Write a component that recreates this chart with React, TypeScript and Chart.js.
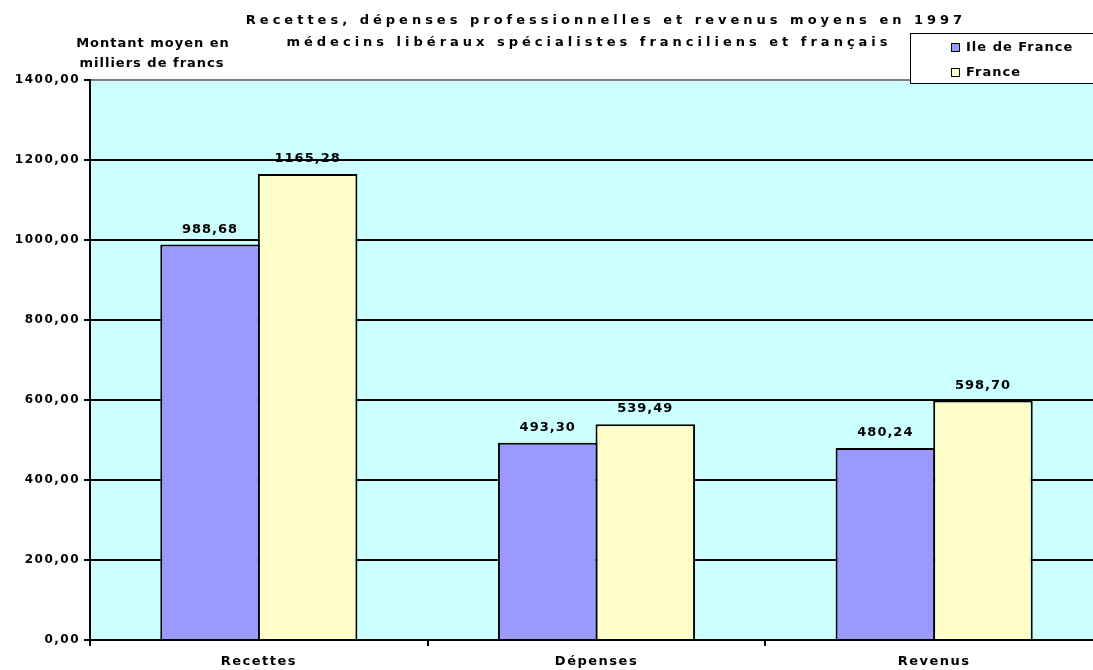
import React, { useEffect, useRef } from "react";
import { Chart, registerables } from "chart.js";

Chart.register(...registerables);

const categories = ["Recettes", "Dépenses", "Revenus"];
const ileDeFrance = [988.68, 493.3, 480.24];
const france = [1165.28, 539.49, 598.7];
const seriesLabels = ["Ile de France", "France"];
const seriesColors = ["#9999FF", "#FFFFCC"];
const titleLines = [
  "Recettes, dépenses professionnelles et revenus moyens en 1997",
  "médecins libéraux spécialistes franciliens et français",
];
const yTitleLines = ["Montant moyen en", "milliers de francs"];

const FONT = '"DejaVu Sans", sans-serif';
const fmt = (v: number) => v.toFixed(2).replace(".", ",");

const decorPlugin = {
  id: "decor",
  beforeDraw(chart: any) {
    const { ctx, chartArea } = chart;
    ctx.save();
    ctx.fillStyle = "#CCFFFF";
    ctx.fillRect(chartArea.left, chartArea.top, chartArea.right - chartArea.left, chartArea.bottom - chartArea.top);
    ctx.restore();
    (ctx as any).letterSpacing = "1.5px";
  },
  afterDatasetsDraw(chart: any) {
    const { ctx } = chart;
    ctx.save();
    (ctx as any).letterSpacing = "1px";
    ctx.font = `bold 13px ${FONT}`;
    ctx.fillStyle = "#000";
    ctx.textAlign = "center";
    ctx.textBaseline = "alphabetic";
    chart.data.datasets.forEach((ds: any, di: number) => {
      const meta = chart.getDatasetMeta(di);
      meta.data.forEach((bar: any, i: number) => {
        ctx.fillText(fmt(ds.data[i]), bar.x, bar.y - 12);
      });
    });
    ctx.restore();
  },
  afterDraw(chart: any) {
    const { ctx } = chart;
    ctx.save();
    ctx.fillStyle = "#000";
    ctx.textBaseline = "alphabetic";
    // Title
    (ctx as any).letterSpacing = "4px";
    ctx.font = `bold 13px ${FONT}`;
    ctx.textAlign = "center";
    ctx.fillText(titleLines[0], 606, 24);
    ctx.fillText(titleLines[1], 589, 46);
    // Y title
    (ctx as any).letterSpacing = "1px";
    ctx.font = `bold 13px ${FONT}`;
    ctx.fillText(yTitleLines[0], 153, 47);
    ctx.fillText(yTitleLines[1], 152, 67);
    // Legend
    const lx = 910, ly = 33, lw = 190, lh = 50;
    ctx.fillStyle = "#fff";
    ctx.fillRect(lx, ly, lw, lh);
    ctx.strokeStyle = "#000";
    ctx.lineWidth = 1;
    ctx.strokeRect(lx + 0.5, ly + 0.5, lw, lh);
    ctx.textAlign = "left";
    chart.data.datasets.forEach((ds: any, di: number) => {
      const y = 47 + di * 25;
      ctx.fillStyle = ds.backgroundColor;
      ctx.fillRect(951, y - 4, 8, 8);
      ctx.strokeStyle = "#000";
      ctx.strokeRect(951.5, y - 3.5, 8, 8);
      ctx.fillStyle = "#000";
      ctx.fillText(ds.label, 966, y + 4);
    });
    ctx.restore();
  },
};

export default function App() {
  const ref = useRef<HTMLCanvasElement>(null);
  useEffect(() => {
    if (!ref.current) return;
    const chart = new Chart(ref.current, {
      type: "bar",
      data: {
        labels: categories,
        datasets: [
          {
            label: seriesLabels[0],
            data: ileDeFrance,
            backgroundColor: seriesColors[0],
            borderColor: "#000",
            borderWidth: 2,
            categoryPercentage: 0.578,
            barPercentage: 1.02,
          },
          {
            label: seriesLabels[1],
            data: france,
            backgroundColor: seriesColors[1],
            borderColor: "#000",
            borderWidth: 2,
            categoryPercentage: 0.578,
            barPercentage: 1.02,
          },
        ],
      },
      options: {
        responsive: false,
        animation: false,
        layout: { padding: { top: 80, right: 0, bottom: 0, left: 0 } },
        plugins: { legend: { display: false }, tooltip: { enabled: false }, title: { display: false } },
        scales: {
          x: {
            afterFit: (s: any) => { s.height = 30; },
            grid: { display: true, drawOnChartArea: false, drawTicks: true, tickLength: 6, color: "#000", lineWidth: 2, offset: true },
            border: { display: true, color: "#000", width: 2 },
            ticks: { color: "#000", font: { family: FONT, weight: "bold", size: 13 }, padding: 8 },
          },
          y: {
            min: 0,
            max: 1400,
            afterFit: (s: any) => { s.width = 90; },
            grid: {
              color: (c: any) => (c.tick && c.tick.value === 1400 ? "#808080" : "#000"),
              tickColor: "#000",
              lineWidth: 2,
              drawTicks: true,
              tickLength: 6,
            },
            border: { display: true, color: "#000", width: 2 },
            ticks: {
              stepSize: 200,
              color: "#000",
              font: { family: FONT, weight: "bold", size: 12 },
              padding: 4,
              callback: (v: any) => fmt(Number(v)),
            },
          },
        },
      },
      plugins: [decorPlugin],
    } as any);
    return () => chart.destroy();
  }, []);
  return (
    <div style={{ position: "fixed", left: 0, top: 0, width: 1093, height: 670, overflow: "hidden", background: "#fff" }}>
      <canvas ref={ref} width={1103} height={670} style={{ display: "block" }} />
    </div>
  );
}
